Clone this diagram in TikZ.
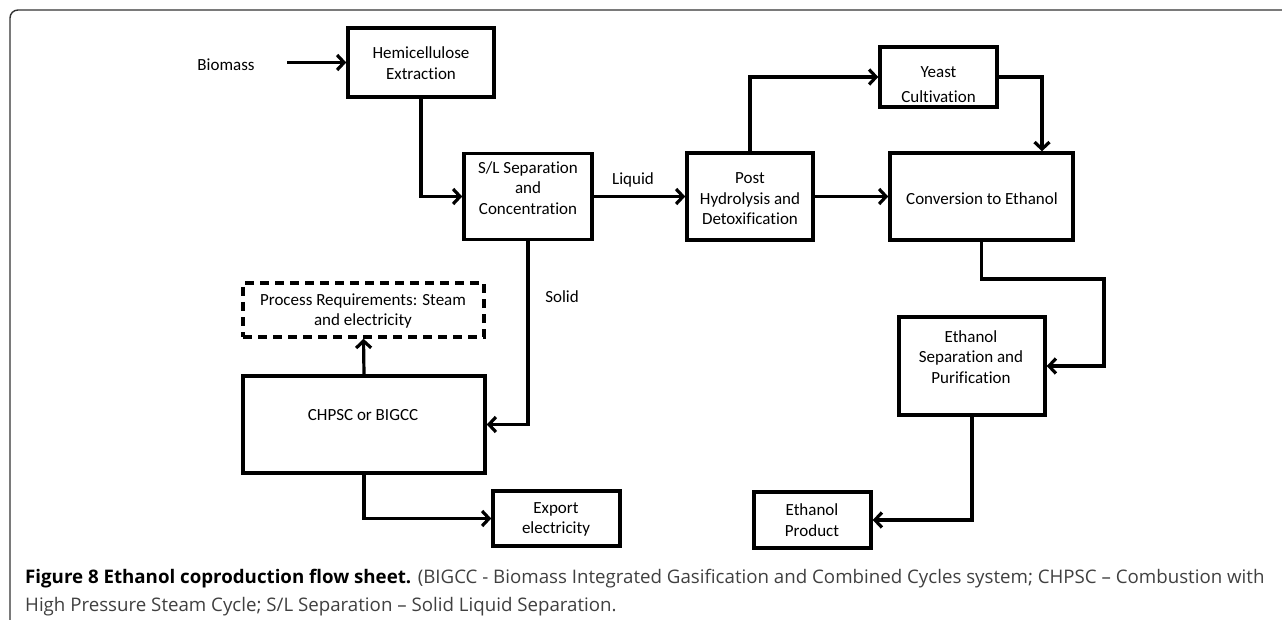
\documentclass[tikz,border=0pt]{standalone}
\usepackage{fontspec}
\setmainfont{Carlito}[RawFeature=-liga]
\newfontfamily\capfont{Open Sans}
\usetikzlibrary{arrows.meta,calc}
\begin{document}
\begin{tikzpicture}[x=1pt,y=-1pt,
  box/.style={draw,line width=3.5pt,rectangle,inner sep=0pt},
  dbox/.style={box,dash pattern=on 9pt off 6pt},
  txt/.style={align=center,inner sep=0pt,font=\fontsize{17}{20.5}\selectfont},
  arr/.style={line width=3.2pt,-{Straight Barb[length=7pt,width=15pt]}},
  frame/.style={draw=black!80,line width=1.4pt,rounded corners=8pt}]
\useasboundingbox (0,0) rectangle (1282,620);
\clip (0,0) rectangle (1282,620);
\draw[frame] (10,10) rectangle (1310,650);
% boxes
\node[box,minimum width=146pt,minimum height=69pt] (hemi) at (421,62.5) {};
\node[box,minimum width=128pt,minimum height=86pt] (sl) at (528,196.5) {};
\node[box,minimum width=126pt,minimum height=87pt] (post) at (750,196.5) {};
\node[box,minimum width=117pt,minimum height=60pt] (yeast) at (938.5,77) {};
\node[box,minimum width=183pt,minimum height=87pt] (conv) at (981.5,196.5) {};
\node[box,minimum width=146pt,minimum height=98pt] (esep) at (972,366) {};
\node[box,minimum width=117pt,minimum height=56pt] (prod) at (812.5,520) {};
\node[dbox,minimum width=241pt,minimum height=54pt] (proc) at (363.5,310) {};
\node[box,minimum width=242pt,minimum height=97pt] (chp) at (364,424.5) {};
\node[box,minimum width=127pt,minimum height=55pt] (exp) at (556.5,518.5) {};
% texts
\node[txt] (themi) at (421,63) {Hemicellulose\\Extraction};
\node[txt] (tsl) at (528,188) {S/L Separation\\and\\Concentration};
\node[txt] (tpost) at (750,199) {Post\\Hydrolysis and\\Detoxification};
\node[txt] (tyeast) at (938.5,84.5) {Yeast\\[4.5pt]Cultivation};
\node[txt] (tconv) at (982,199) {Conversion to Ethanol};
\node[txt] (tesep) at (971,357) {Ethanol\\Separation and\\Purification};
\node[txt] (tprod) at (812,520) {Ethanol\\Product};
\node[txt] (tproc) at (363,311) {Process Requirements: Steam\\and electricity};
\node[txt] (tchp) at (363,415) {CHPSC or BIGCC};
\node[txt] (texp) at (556,519.5) {Export\\electricity};
\node[txt] (bio) at (226,65) {Biomass};
\node[txt] (liq) at (633,180) {Liquid};
\node[txt] (sol) at (562,297) {Solid};
% connectors
\coordinate (bioout) at (287,62.5);
\coordinate (c1) at (1104,279);
\draw[arr] (bioout) -- (hemi);
\draw[arr] (hemi.south) |- (sl.west);
\draw[arr] (sl.east) -- (post.west);
\draw[arr] (sl.south) |- (chp.east);
\draw[arr] (chp.north) -- (proc.south);
\draw[arr] (chp.south) |- (exp.west);
\draw[arr] (post.north) |- (yeast.west);
\draw[arr] (yeast.east) -| ([xshift=60.5pt]conv.north);
\draw[arr] (post.east) -- (conv.west);
\draw[arr] (conv.south) |- (c1) |- (esep.east);
\draw[arr] (esep.south) |- (prod.east);
% caption
\node[anchor=base west,inner sep=0pt,font=\capfont\fontsize{18.7}{22}\selectfont] (cap1) at (25,583)
  {\textbf{Figure 8 Ethanol coproduction flow sheet.} \textcolor{black!75}{(BIGCC - Biomass Integrated Gasification and Combined Cycles system; CHPSC – Combustion with}};
\node[anchor=base west,inner sep=0pt,font=\capfont\fontsize{18.7}{22}\selectfont,text=black!75] (cap2) at (25,611)
  {High Pressure Steam Cycle; S/L Separation – Solid Liquid Separation.};
\end{tikzpicture}
\end{document}
